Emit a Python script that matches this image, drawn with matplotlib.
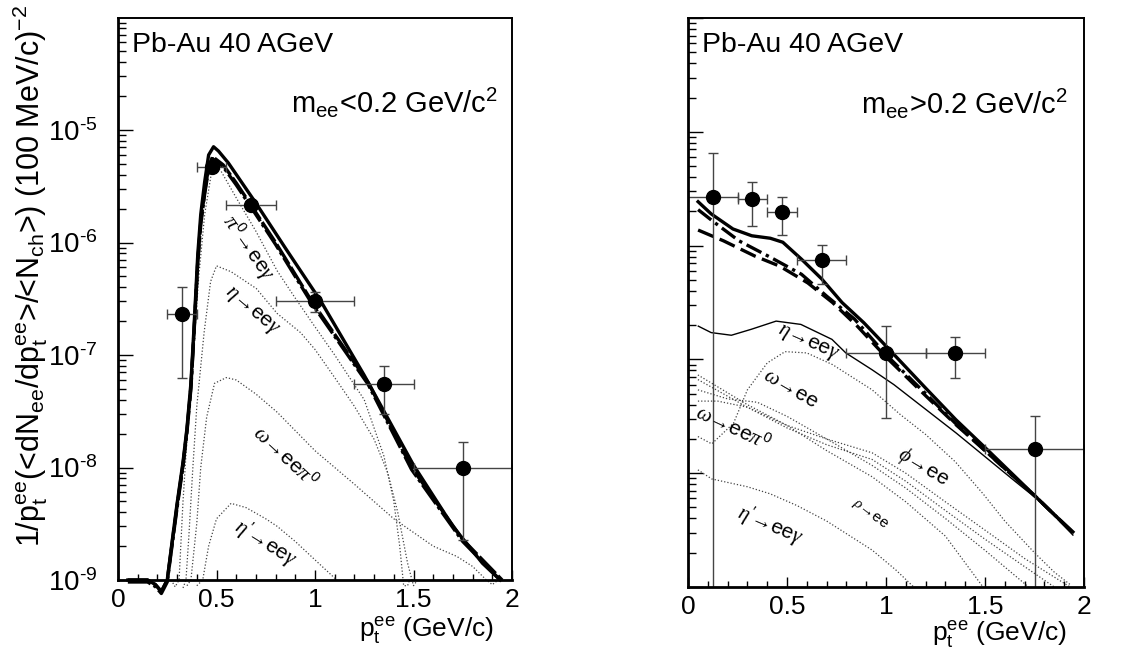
import matplotlib
matplotlib.use('Agg')
import matplotlib.pyplot as plt
from matplotlib.ticker import MultipleLocator, LogLocator, NullFormatter, FuncFormatter, FixedLocator
import numpy as np

plt.rcParams['font.family'] = ['Liberation Sans', 'DejaVu Sans']
plt.rcParams['mathtext.fontset'] = 'custom'
plt.rcParams['mathtext.rm'] = 'Liberation Sans'
plt.rcParams['mathtext.it'] = 'Liberation Serif:italic'
plt.rcParams['mathtext.default'] = 'regular'

# ---- data: bins of the measured points
pt = np.array([0.325, 0.475, 0.675, 1.0, 1.35, 1.75])
pt_lo = np.array([0.25, 0.40, 0.55, 0.80, 1.20, 1.50])
pt_hi = np.array([0.40, 0.55, 0.80, 1.20, 1.50, 2.00])

# left panel, m_ee < 0.2 GeV/c2
low_y = np.array([2.32e-7, 4.65e-6, 2.15e-6, 3.0e-7, 5.5e-8, 9.8e-9])
low_y_hi = np.array([4.0e-7, 4.9e-6, 2.3e-6, 3.6e-7, 8.0e-8, 1.7e-8])
low_y_lo = np.array([6.3e-8, 4.4e-6, 2.0e-6, 2.4e-7, 2.97e-8, 2.27e-9])

# right panel, m_ee > 0.2 GeV/c2
pt_r = np.array([0.125, 0.325, 0.475, 0.675, 1.0, 1.35, 1.75])
pt_r_lo = np.array([0.0, 0.25, 0.40, 0.55, 0.80, 1.20, 1.50])
pt_r_hi = np.array([0.25, 0.40, 0.55, 0.80, 1.20, 1.50, 2.00])
high_y = np.array([2.69e-7, 2.57e-7, 1.96e-7, 7.4e-8, 1.14e-8, 1.13e-8, 1.63e-9])
high_y_hi = np.array([6.5e-7, 3.65e-7, 2.7e-7, 1.02e-7, 1.96e-8, 1.58e-8, 3.2e-9])
high_y_lo = np.array([1e-12, 1.5e-7, 1.24e-7, 4.6e-8, 3.05e-9, 6.9e-9, 1e-12])

# decades with a label on the left axis
left_decades = [1e-9, 1e-8, 1e-7, 1e-6, 1e-5]
right_decades = [1e-10, 1e-9, 1e-8, 1e-7, 1e-6, 1e-5]

# left panel curves
tot_x = [0.05, 0.10, 0.15, 0.19, 0.22, 0.25, 0.28, 0.30, 0.33, 0.35, 0.37, 0.385, 0.405,
         0.42, 0.44, 0.46, 0.485, 0.51, 0.56, 0.70, 0.85, 1.03, 1.25, 1.50, 1.70, 1.85, 1.94]
tot_y = [1.0e-9, 1.0e-9, 1.0e-9, 9.1e-10, 7.9e-10, 1.0e-9, 2.6e-9, 4.8e-9, 1.12e-8, 2.24e-8,
         5.6e-8, 1.66e-7, 7.9e-7, 1.78e-6, 3.47e-6, 6.0e-6, 7.1e-6, 6.5e-6, 5.1e-6, 2.24e-6,
         8.9e-7, 3.0e-7, 6.6e-8, 1.05e-8, 3.0e-9, 1.41e-9, 1.0e-9]
coc_x = [0.05, 0.10, 0.15, 0.19, 0.22, 0.25, 0.28, 0.30, 0.33, 0.35, 0.37, 0.385, 0.405,
         0.42, 0.44, 0.46, 0.48, 0.534, 0.60, 0.675, 0.80, 0.984, 1.27, 1.49, 1.75, 1.95]
coc_y = [1.0e-9, 1.0e-9, 1.0e-9, 9.1e-10, 7.9e-10, 1.0e-9, 2.5e-9, 4.6e-9, 1.07e-8, 2.14e-8,
         5.2e-8, 1.51e-7, 6.9e-7, 1.51e-6, 2.82e-6, 4.68e-6, 5.8e-6, 4.9e-6, 3.39e-6, 2.15e-6,
         1.0e-6, 2.99e-7, 5.7e-8, 1.0e-8, 2.29e-9, 1.0e-9]

pi0_x = [0.27, 0.29, 0.31, 0.33, 0.35, 0.37, 0.39, 0.41, 0.44, 0.48, 0.52, 0.6, 0.7, 0.808,
         0.9, 1.0, 1.1, 1.25, 1.35, 1.4, 1.43, 1.45, 1.47, 1.48]
pi0_y = [1.0e-9, 8.7e-10, 1.0e-9, 5.0e-9, 1.78e-8, 5.0e-8, 1.58e-7, 5.0e-7, 1.78e-6, 4.8e-6,
         4.4e-6, 2.5e-6, 1.26e-6, 5.6e-7, 3.2e-7, 1.78e-7, 1.0e-7, 4.0e-8, 1.26e-8, 5.0e-9,
         2.0e-9, 8.9e-10, 8.9e-10, 1.0e-9]
eta_x = [0.33, 0.345, 0.36, 0.38, 0.40, 0.437, 0.47, 0.50, 0.574, 0.702, 0.808, 0.927, 1.0,
         1.1, 1.2, 1.3, 1.37, 1.42, 1.47, 1.50, 1.52]
eta_y = [8.5e-10, 1.0e-9, 2.5e-9, 1.0e-8, 3.5e-8, 1.58e-7, 4.5e-7, 6.2e-7, 5.5e-7, 3.9e-7,
         2.34e-7, 1.58e-7, 1.12e-7, 6.3e-8, 3.5e-8, 1.78e-8, 8.9e-9, 4.0e-9, 1.41e-9,
         8.9e-10, 1.0e-9]
omd_x = [0.35, 0.37, 0.40, 0.42, 0.45, 0.49, 0.55, 0.6, 0.7, 0.808, 1.0, 1.2, 1.4, 1.6,
         1.72, 1.8, 1.87, 1.9, 1.93]
omd_y = [8.9e-10, 1.0e-9, 3.2e-9, 1.0e-8, 2.8e-8, 5.6e-8, 6.3e-8, 6.0e-8, 4.5e-8, 3.1e-8,
         1.41e-8, 7.1e-9, 3.5e-9, 2.0e-9, 1.62e-9, 1.32e-9, 1.0e-9, 9.1e-10, 1.0e-9]
etap_x = [0.40, 0.43, 0.46, 0.50, 0.574, 0.65, 0.75, 0.808, 0.9, 1.0, 1.08, 1.11]
etap_y = [8.9e-10, 1.0e-9, 2.0e-9, 3.5e-9, 4.8e-9, 4.4e-9, 3.5e-9, 3.0e-9, 2.2e-9,
          1.51e-9, 1.12e-9, 1.0e-9]

# right panel curves
r_tot_x = [0.051, 0.117, 0.227, 0.322, 0.416, 0.479, 0.573, 0.675, 0.778, 0.888, 1.0, 1.2,
           1.353, 1.513, 1.67, 1.757, 1.828, 1.944]
r_tot_y = [2.43e-7, 1.90e-7, 1.40e-7, 1.22e-7, 1.16e-7, 1.07e-7, 7.6e-8, 5.1e-8, 3.16e-8,
           2.10e-8, 1.31e-8, 5.6e-9, 2.95e-9, 1.60e-9, 8.7e-10, 6.2e-10, 4.7e-10, 3.05e-10]
r_dash_x = [0.051, 0.18, 0.337, 0.463, 0.605, 0.73, 0.855, 1.0, 1.2, 1.35, 1.5, 1.67, 1.757, 1.944]
r_dash_y = [1.37e-7, 1.10e-7, 8.1e-8, 6.6e-8, 4.7e-8, 3.16e-8, 1.96e-8, 1.05e-8, 4.8e-9,
            2.7e-9, 1.58e-9, 8.5e-10, 6.2e-10, 3.0e-10]
r_dd_x = [0.051, 0.133, 0.258, 0.416, 0.573, 0.70, 0.841, 1.0, 1.2, 1.35, 1.5, 1.67, 1.757, 1.944]
r_dd_y = [2.07e-7, 1.60e-7, 1.10e-7, 7.9e-8, 5.6e-8, 3.6e-8, 2.26e-8, 1.10e-8, 5.0e-9,
          2.75e-9, 1.58e-9, 8.5e-10, 6.2e-10, 3.0e-10]
r_eta_x = [0.052, 0.117, 0.219, 0.32, 0.445, 0.57, 0.727, 0.797, 0.93, 1.04, 1.355, 1.655,
           1.77, 1.83, 1.944]
r_eta_y = [1.96e-8, 1.72e-8, 1.63e-8, 1.84e-8, 2.17e-8, 2.03e-8, 1.50e-8, 1.14e-8, 8.1e-9,
           6.0e-9, 2.25e-9, 8.4e-10, 5.8e-10, 4.6e-10, 2.86e-10]
r_omega_x = [0.05, 0.12, 0.23, 0.30, 0.40, 0.49, 0.60, 0.73, 0.93, 1.07, 1.2, 1.35, 1.49,
             1.6, 1.75, 1.85, 1.93]
r_omega_y = [2.1e-9, 1.81e-9, 2.75e-9, 5.4e-9, 9.3e-9, 1.17e-8, 1.14e-8, 9.0e-9, 5.4e-9,
             3.3e-9, 2.19e-9, 1.26e-9, 6.6e-10, 3.8e-10, 2.0e-10, 1.35e-10, 1.05e-10]
r_phi_x = [0.05, 0.3, 0.5, 0.7, 0.93, 1.1, 1.3, 1.5, 1.7, 1.93]
r_phi_y = [7.3e-9, 4.0e-9, 2.63e-9, 2.0e-9, 1.51e-9, 1.0e-9, 5.6e-10, 3.16e-10, 1.78e-10, 1.0e-10]
r_rho_x = [0.05, 0.3, 0.5, 0.7, 0.93, 1.1, 1.3, 1.5, 1.7, 1.85]
r_rho_y = [6.65e-9, 3.8e-9, 2.5e-9, 1.78e-9, 1.32e-9, 8.5e-10, 4.7e-10, 2.63e-10, 1.51e-10, 1.0e-10]
r_c3_x = [0.05, 0.2, 0.35, 0.5, 0.7, 0.93, 1.1, 1.3, 1.5, 1.72]
r_c3_y = [5.4e-9, 4.5e-9, 4.2e-9, 3.16e-9, 2.0e-9, 1.17e-9, 7.4e-10, 4.0e-10, 2.1e-10, 1.0e-10]
r_omd_x = [0.05, 0.15, 0.3, 0.5, 0.7, 0.93, 1.1, 1.3, 1.49]
r_omd_y = [4.3e-9, 4.3e-9, 3.8e-9, 2.63e-9, 1.58e-9, 9.3e-10, 5.6e-10, 2.8e-10, 1.0e-10]
r_etap_x = [0.05, 0.12, 0.3, 0.414, 0.55, 0.7, 0.93, 1.05, 1.14]
r_etap_y = [1.07e-9, 8.9e-10, 7.6e-10, 6.6e-10, 5.2e-10, 3.8e-10, 2.11e-10, 1.41e-10, 1.0e-10]

DOT = dict(color='#444444', lw=0.9, ls=(0, (1, 1.6)))
THICK = 2.4

fig = plt.figure(figsize=(11.24, 6.51), dpi=100)
axL = fig.add_axes([118 / 1124, 71 / 651, 394 / 1124, 562 / 651])
axR = fig.add_axes([688 / 1124, 64 / 651, 396 / 1124, 569 / 651])


def pow_label(v, pos):
    # ROOT style 10^-n with a short hyphen
    n = int(round(np.log10(v)))
    return '10$^{\u2010%d}$' % (-n) if n < 0 else '10$^{%d}$' % n


def style(ax, ylim, decades, labels):
    ax.set_yscale('log')
    ax.set_xlim(0, 2)
    ax.set_ylim(*ylim)
    ax.xaxis.set_major_locator(MultipleLocator(0.5))
    ax.xaxis.set_minor_locator(MultipleLocator(0.1))
    ax.xaxis.set_major_formatter(FuncFormatter(lambda v, p: '%g' % v))
    ax.yaxis.set_major_locator(FixedLocator(decades))
    ax.yaxis.set_minor_locator(LogLocator(base=10, subs=np.arange(2, 10), numticks=20))
    ax.yaxis.set_major_formatter(FuncFormatter(pow_label))
    ax.yaxis.set_minor_formatter(NullFormatter())
    ax.tick_params(which='both', direction='in', top=False, right=False, width=1)
    ax.tick_params(axis='x', which='major', length=7, labelsize=19, pad=6)
    ax.tick_params(axis='x', which='minor', length=4)
    ax.tick_params(axis='y', which='major', length=11, labelsize=20, pad=15)
    ax.tick_params(axis='y', which='minor', length=6)
    if not labels:
        ax.tick_params(axis='y', labelleft=False)
    for s in ax.spines.values():
        s.set_linewidth(1.4)
    ax.spines['left'].set_linewidth(2)
    ax.spines['bottom'].set_linewidth(2)


style(axL, (1e-9, 9.9e-5), left_decades, True)
style(axR, (1e-10, 1e-5), right_decades, False)

# ---- left panel
for x, y in [(pi0_x, pi0_y), (eta_x, eta_y), (omd_x, omd_y), (etap_x, etap_y)]:
    axL.plot(x, y, clip_on=False, **DOT)
axL.plot(tot_x, tot_y, color='black', lw=THICK, clip_on=False)
axL.plot(coc_x, coc_y, color='black', lw=THICK, ls=(0, (7, 1)), clip_on=False)
axL.plot(coc_x, np.array(coc_y) * 0.96, color='black', lw=THICK, ls=(0, (7, 1, 1, 1)), clip_on=False)
axL.errorbar(pt, low_y, xerr=[pt - pt_lo, pt_hi - pt], yerr=[low_y - low_y_lo, low_y_hi - low_y],
             fmt='o', ms=10, color='black', ecolor='#444444', elinewidth=1, capsize=3.5, capthick=1)

lab = dict(fontsize=15, ha='center', va='center', rotation_mode='anchor')
axL.text(0.66, 9.0e-7, r'$\mathit{\pi}^0$→ee$\mathit{\gamma}$', rotation=-55, **lab)
axL.text(0.675, 2.44e-7, r'$\mathit{\eta}$→ee$\mathit{\gamma}$', rotation=-40, **lab)
axL.text(0.849, 1.26e-8, r'$\mathit{\omega}$→ee$\mathit{\pi}^0$', rotation=-43, **lab)
axL.text(0.748, 2.13e-9, r"$\mathit{\eta}^{\prime}$→ee$\mathit{\gamma}$", rotation=-32, **lab)

axL.text(0.036, 0.94, 'Pb-Au 40 AGeV', transform=axL.transAxes, fontsize=20.5,
         va='baseline', ha='left')
axL.text(0.964, 0.833, r'm$_{ee}$<0.2 GeV/c$^{2}$', transform=axL.transAxes, fontsize=21,
         va='baseline', ha='right')

# ---- right panel
for x, y in [(r_omega_x, r_omega_y), (r_phi_x, r_phi_y), (r_rho_x, r_rho_y),
             (r_c3_x, r_c3_y), (r_omd_x, r_omd_y), (r_etap_x, r_etap_y)]:
    axR.plot(x, y, **DOT)
axR.plot(r_eta_x, r_eta_y, color='black', lw=1)
axR.plot(r_tot_x, r_tot_y, color='black', lw=THICK)
axR.plot(r_dash_x, r_dash_y, color='black', lw=THICK, ls=(0, (5, 2)))
axR.plot(r_dd_x, r_dd_y, color='black', lw=THICK, ls=(0, (5, 1.5, 1, 1.5)))
axR.errorbar(pt_r, high_y, xerr=[pt_r - pt_r_lo, pt_r_hi - pt_r],
             yerr=[high_y - high_y_lo, high_y_hi - high_y],
             fmt='o', ms=10, color='black', ecolor='#444444', elinewidth=1, capsize=3.5, capthick=1)

axR.text(0.606, 1.40e-8, r'$\mathit{\eta}$→ee$\mathit{\gamma}$', rotation=-24, **lab)
axR.text(0.517, 5.6e-9, r'$\mathit{\omega}$→ee', rotation=-30, **lab)
axR.text(0.227, 2.5e-9, r'$\mathit{\omega}$→ee$\mathit{\pi}^0$', rotation=-25, **lab)
axR.text(1.187, 1.12e-9, r'$\mathit{\phi}$→ee', rotation=-31, **lab)
axR.text(0.921, 4.35e-10, r'$\mathit{\rho}$→ee', rotation=-37, fontsize=11, ha='center',
         va='center', rotation_mode='anchor')
axR.text(0.416, 3.5e-10, r"$\mathit{\eta}^{\prime}$→ee$\mathit{\gamma}$", rotation=-23, **lab)

axR.text(0.035, 0.941, 'Pb-Au 40 AGeV', transform=axR.transAxes, fontsize=20.5,
         va='baseline', ha='left')
axR.text(0.961, 0.8325, r'm$_{ee}$>0.2 GeV/c$^{2}$', transform=axR.transAxes, fontsize=21,
         va='baseline', ha='right')

# ---- axis titles
fig.text(30 / 1124, 1 - 5 / 651,
         r'1/p$_{t}^{ee}$(<dN$_{ee}$/dp$_{t}^{ee}$>/<N$_{ch}$>) (100 MeV/c)$^{-2}$',
         rotation=90, ha='center', va='top', fontsize=22)
fig.text(494 / 1124, 1 - 630 / 651, r'p$_{t}^{ee}$ (GeV/c)', ha='right', va='center', fontsize=19)
fig.text(1067 / 1124, 1 - 635 / 651, r'p$_{t}^{ee}$ (GeV/c)', ha='right', va='center', fontsize=19)

fig.savefig('out.png', dpi=100)
